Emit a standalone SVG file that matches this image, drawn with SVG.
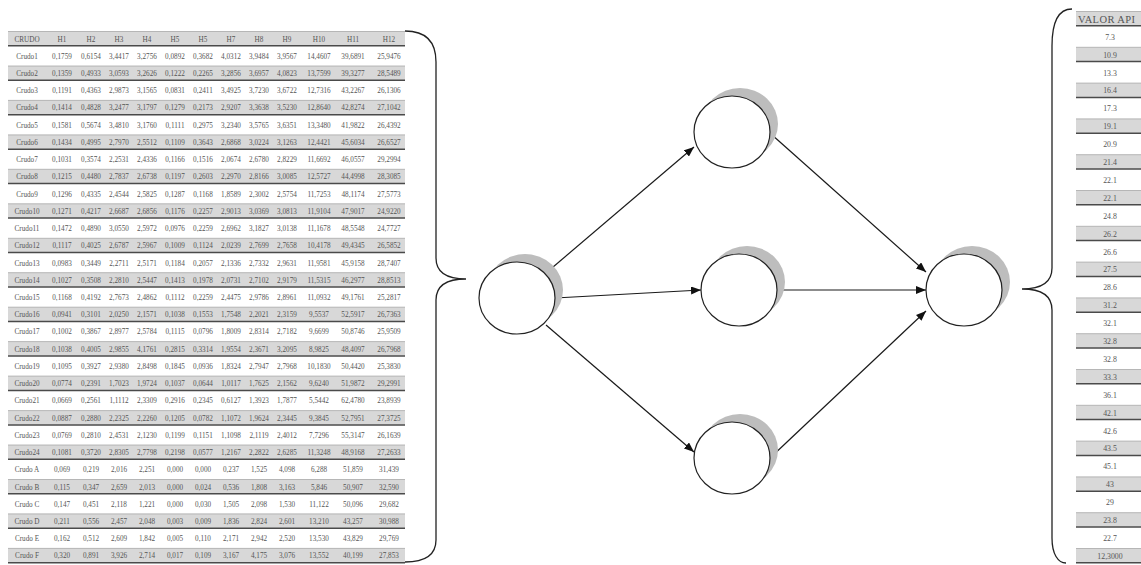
<svg xmlns="http://www.w3.org/2000/svg" width="1141" height="565" viewBox="0 0 1141 565">
  <style>
    .cell { font-family: "Liberation Serif", "DejaVu Serif", serif; font-size: 7.2px; fill: #555; text-anchor: middle; }
    .rcell { font-family: "Liberation Serif", "DejaVu Serif", serif; font-size: 7.8px; fill: #555; text-anchor: middle; }
    .rhead { font-family: "Liberation Serif", "DejaVu Serif", serif; font-size: 10.5px; fill: #555; letter-spacing: 0.4px; }
    .band { fill: #d8d8d8; }
    .bandTop { stroke: #a8a8a8; stroke-width: 0.8; }
    .bandBot { stroke: #4a4a4a; stroke-width: 1.5; }
    .brace { fill: none; stroke: #222; stroke-width: 1.3; }
    .node { fill: #fff; stroke: #222; stroke-width: 1.2; }
    .shadow { fill: #bdbdbd; }
    .link { stroke: #1a1a1a; stroke-width: 1.2; fill: none; marker-end: url(#arrow); }
  </style>
  <defs>
    <marker id="arrow" markerUnits="userSpaceOnUse" markerWidth="10" markerHeight="8" refX="10" refY="4" orient="auto">
      <path d="M0,0 L10,4 L0,8 z" fill="#111"/>
    </marker>
    <!-- shaded table row: band with light top rule and dark bottom rule -->
    <g id="lrow">
      <rect class="band" x="8" y="-7.5" width="397" height="14"/>
      <line class="bandTop" x1="8" y1="-7.5" x2="405" y2="-7.5"/>
      <line class="bandBot" x1="8" y1="6.8" x2="405" y2="6.8"/>
    </g>
    <g id="rrow">
      <rect class="band" x="1076" y="-7.5" width="67" height="14"/>
      <line class="bandTop" x1="1076" y1="-7.5" x2="1143" y2="-7.5"/>
      <line class="bandBot" x1="1076" y1="6.8" x2="1143" y2="6.8"/>
    </g>
  </defs>

  <!-- input data table -->
  <g id="input-table">
    <use href="#lrow" y="39"/>
    <use href="#lrow" y="73.5"/>
    <use href="#lrow" y="107.9"/>
    <use href="#lrow" y="142.4"/>
    <use href="#lrow" y="176.8"/>
    <use href="#lrow" y="211.3"/>
    <use href="#lrow" y="245.8"/>
    <use href="#lrow" y="280.2"/>
    <use href="#lrow" y="314.7"/>
    <use href="#lrow" y="349.1"/>
    <use href="#lrow" y="383.6"/>
    <use href="#lrow" y="418.1"/>
    <use href="#lrow" y="452.5"/>
    <use href="#lrow" y="487"/>
    <use href="#lrow" y="521.4"/>
    <use href="#lrow" y="555.9"/>
    <g class="cell">
      <text y="41.5"><tspan x="27">CRUDO</tspan><tspan x="62">H1</tspan><tspan x="91">H2</tspan><tspan x="119">H3</tspan><tspan x="147">H4</tspan><tspan x="175">H5</tspan><tspan x="203">H5</tspan><tspan x="231">H7</tspan><tspan x="259">H8</tspan><tspan x="287">H9</tspan><tspan x="319">H10</tspan><tspan x="353">H11</tspan><tspan x="389">H12</tspan></text>
      <text y="58.7"><tspan x="27">Crudo1</tspan><tspan x="62">0,1759</tspan><tspan x="91">0,6154</tspan><tspan x="119">3,4417</tspan><tspan x="147">3,2756</tspan><tspan x="175">0,0892</tspan><tspan x="203">0,3682</tspan><tspan x="231">4,0312</tspan><tspan x="259">3,9484</tspan><tspan x="287">3,9567</tspan><tspan x="319">14,4607</tspan><tspan x="353">39,6891</tspan><tspan x="389">25,9476</tspan></text>
      <text y="76"><tspan x="27">Crudo2</tspan><tspan x="62">0,1359</tspan><tspan x="91">0,4933</tspan><tspan x="119">3,0593</tspan><tspan x="147">3,2626</tspan><tspan x="175">0,1222</tspan><tspan x="203">0,2265</tspan><tspan x="231">3,2856</tspan><tspan x="259">3,6957</tspan><tspan x="287">4,0823</tspan><tspan x="319">13,7599</tspan><tspan x="353">39,3277</tspan><tspan x="389">28,5489</tspan></text>
      <text y="93.2"><tspan x="27">Crudo3</tspan><tspan x="62">0,1191</tspan><tspan x="91">0,4363</tspan><tspan x="119">2,9873</tspan><tspan x="147">3,1565</tspan><tspan x="175">0,0831</tspan><tspan x="203">0,2411</tspan><tspan x="231">3,4925</tspan><tspan x="259">3,7230</tspan><tspan x="287">3,6722</tspan><tspan x="319">12,7316</tspan><tspan x="353">43,2267</tspan><tspan x="389">26,1306</tspan></text>
      <text y="110.4"><tspan x="27">Crudo4</tspan><tspan x="62">0,1414</tspan><tspan x="91">0,4828</tspan><tspan x="119">3,2477</tspan><tspan x="147">3,1797</tspan><tspan x="175">0,1279</tspan><tspan x="203">0,2173</tspan><tspan x="231">2,9207</tspan><tspan x="259">3,3638</tspan><tspan x="287">3,5230</tspan><tspan x="319">12,8640</tspan><tspan x="353">42,8274</tspan><tspan x="389">27,1042</tspan></text>
      <text y="127.6"><tspan x="27">Crudo5</tspan><tspan x="62">0,1581</tspan><tspan x="91">0,5674</tspan><tspan x="119">3,4810</tspan><tspan x="147">3,1760</tspan><tspan x="175">0,1111</tspan><tspan x="203">0,2975</tspan><tspan x="231">3,2340</tspan><tspan x="259">3,5765</tspan><tspan x="287">3,6351</tspan><tspan x="319">13,3480</tspan><tspan x="353">41,9822</tspan><tspan x="389">26,4392</tspan></text>
      <text y="144.9"><tspan x="27">Crudo6</tspan><tspan x="62">0,1434</tspan><tspan x="91">0,4995</tspan><tspan x="119">2,7970</tspan><tspan x="147">2,5512</tspan><tspan x="175">0,1109</tspan><tspan x="203">0,3643</tspan><tspan x="231">2,6868</tspan><tspan x="259">3,0224</tspan><tspan x="287">3,1263</tspan><tspan x="319">12,4421</tspan><tspan x="353">45,6034</tspan><tspan x="389">26,6527</tspan></text>
      <text y="162.1"><tspan x="27">Crudo7</tspan><tspan x="62">0,1031</tspan><tspan x="91">0,3574</tspan><tspan x="119">2,2531</tspan><tspan x="147">2,4336</tspan><tspan x="175">0,1166</tspan><tspan x="203">0,1516</tspan><tspan x="231">2,0674</tspan><tspan x="259">2,6780</tspan><tspan x="287">2,8229</tspan><tspan x="319">11,6692</tspan><tspan x="353">46,0557</tspan><tspan x="389">29,2994</tspan></text>
      <text y="179.3"><tspan x="27">Crudo8</tspan><tspan x="62">0,1215</tspan><tspan x="91">0,4480</tspan><tspan x="119">2,7837</tspan><tspan x="147">2,6738</tspan><tspan x="175">0,1197</tspan><tspan x="203">0,2603</tspan><tspan x="231">2,2970</tspan><tspan x="259">2,8166</tspan><tspan x="287">3,0085</tspan><tspan x="319">12,5727</tspan><tspan x="353">44,4998</tspan><tspan x="389">28,3085</tspan></text>
      <text y="196.6"><tspan x="27">Crudo9</tspan><tspan x="62">0,1296</tspan><tspan x="91">0,4335</tspan><tspan x="119">2,4544</tspan><tspan x="147">2,5825</tspan><tspan x="175">0,1287</tspan><tspan x="203">0,1168</tspan><tspan x="231">1,8589</tspan><tspan x="259">2,3002</tspan><tspan x="287">2,5754</tspan><tspan x="319">11,7253</tspan><tspan x="353">48,1174</tspan><tspan x="389">27,5773</tspan></text>
      <text y="213.8"><tspan x="27">Crudo10</tspan><tspan x="62">0,1271</tspan><tspan x="91">0,4217</tspan><tspan x="119">2,6687</tspan><tspan x="147">2,6856</tspan><tspan x="175">0,1176</tspan><tspan x="203">0,2257</tspan><tspan x="231">2,9013</tspan><tspan x="259">3,0369</tspan><tspan x="287">3,0813</tspan><tspan x="319">11,9104</tspan><tspan x="353">47,9017</tspan><tspan x="389">24,9220</tspan></text>
      <text y="231"><tspan x="27">Crudo11</tspan><tspan x="62">0,1472</tspan><tspan x="91">0,4890</tspan><tspan x="119">3,0550</tspan><tspan x="147">2,5972</tspan><tspan x="175">0,0976</tspan><tspan x="203">0,2259</tspan><tspan x="231">2,6962</tspan><tspan x="259">3,1827</tspan><tspan x="287">3,0138</tspan><tspan x="319">11,1678</tspan><tspan x="353">48,5548</tspan><tspan x="389">24,7727</tspan></text>
      <text y="248.3"><tspan x="27">Crudo12</tspan><tspan x="62">0,1117</tspan><tspan x="91">0,4025</tspan><tspan x="119">2,6787</tspan><tspan x="147">2,5967</tspan><tspan x="175">0,1009</tspan><tspan x="203">0,1124</tspan><tspan x="231">2,0239</tspan><tspan x="259">2,7699</tspan><tspan x="287">2,7658</tspan><tspan x="319">10,4178</tspan><tspan x="353">49,4345</tspan><tspan x="389">26,5852</tspan></text>
      <text y="265.5"><tspan x="27">Crudo13</tspan><tspan x="62">0,0983</tspan><tspan x="91">0,3449</tspan><tspan x="119">2,2711</tspan><tspan x="147">2,5171</tspan><tspan x="175">0,1184</tspan><tspan x="203">0,2057</tspan><tspan x="231">2,1336</tspan><tspan x="259">2,7332</tspan><tspan x="287">2,9631</tspan><tspan x="319">11,9581</tspan><tspan x="353">45,9158</tspan><tspan x="389">28,7407</tspan></text>
      <text y="282.7"><tspan x="27">Crudo14</tspan><tspan x="62">0,1027</tspan><tspan x="91">0,3508</tspan><tspan x="119">2,2810</tspan><tspan x="147">2,5447</tspan><tspan x="175">0,1413</tspan><tspan x="203">0,1978</tspan><tspan x="231">2,0731</tspan><tspan x="259">2,7102</tspan><tspan x="287">2,9179</tspan><tspan x="319">11,5315</tspan><tspan x="353">46,2977</tspan><tspan x="389">28,8513</tspan></text>
      <text y="299.9"><tspan x="27">Crudo15</tspan><tspan x="62">0,1168</tspan><tspan x="91">0,4192</tspan><tspan x="119">2,7673</tspan><tspan x="147">2,4862</tspan><tspan x="175">0,1112</tspan><tspan x="203">0,2259</tspan><tspan x="231">2,4475</tspan><tspan x="259">2,9786</tspan><tspan x="287">2,8961</tspan><tspan x="319">11,0932</tspan><tspan x="353">49,1761</tspan><tspan x="389">25,2817</tspan></text>
      <text y="317.2"><tspan x="27">Crudo16</tspan><tspan x="62">0,0941</tspan><tspan x="91">0,3101</tspan><tspan x="119">2,0250</tspan><tspan x="147">2,1571</tspan><tspan x="175">0,1038</tspan><tspan x="203">0,1553</tspan><tspan x="231">1,7548</tspan><tspan x="259">2,2021</tspan><tspan x="287">2,3159</tspan><tspan x="319">9,5537</tspan><tspan x="353">52,5917</tspan><tspan x="389">26,7363</tspan></text>
      <text y="334.4"><tspan x="27">Crudo17</tspan><tspan x="62">0,1002</tspan><tspan x="91">0,3867</tspan><tspan x="119">2,8977</tspan><tspan x="147">2,5784</tspan><tspan x="175">0,1115</tspan><tspan x="203">0,0796</tspan><tspan x="231">1,8009</tspan><tspan x="259">2,8314</tspan><tspan x="287">2,7182</tspan><tspan x="319">9,6699</tspan><tspan x="353">50,8746</tspan><tspan x="389">25,9509</tspan></text>
      <text y="351.6"><tspan x="27">Crudo18</tspan><tspan x="62">0,1038</tspan><tspan x="91">0,4005</tspan><tspan x="119">2,9855</tspan><tspan x="147">4,1761</tspan><tspan x="175">0,2815</tspan><tspan x="203">0,3314</tspan><tspan x="231">1,9554</tspan><tspan x="259">2,3671</tspan><tspan x="287">3,2095</tspan><tspan x="319">8,9825</tspan><tspan x="353">48,4097</tspan><tspan x="389">26,7968</tspan></text>
      <text y="368.9"><tspan x="27">Crudo19</tspan><tspan x="62">0,1095</tspan><tspan x="91">0,3927</tspan><tspan x="119">2,9380</tspan><tspan x="147">2,8498</tspan><tspan x="175">0,1845</tspan><tspan x="203">0,0936</tspan><tspan x="231">1,8324</tspan><tspan x="259">2,7947</tspan><tspan x="287">2,7968</tspan><tspan x="319">10,1830</tspan><tspan x="353">50,4420</tspan><tspan x="389">25,3830</tspan></text>
      <text y="386.1"><tspan x="27">Crudo20</tspan><tspan x="62">0,0774</tspan><tspan x="91">0,2391</tspan><tspan x="119">1,7023</tspan><tspan x="147">1,9724</tspan><tspan x="175">0,1037</tspan><tspan x="203">0,0644</tspan><tspan x="231">1,0117</tspan><tspan x="259">1,7625</tspan><tspan x="287">2,1562</tspan><tspan x="319">9,6240</tspan><tspan x="353">51,9872</tspan><tspan x="389">29,2991</tspan></text>
      <text y="403.3"><tspan x="27">Crudo21</tspan><tspan x="62">0,0669</tspan><tspan x="91">0,2561</tspan><tspan x="119">1,1112</tspan><tspan x="147">2,3309</tspan><tspan x="175">0,2916</tspan><tspan x="203">0,2345</tspan><tspan x="231">0,6127</tspan><tspan x="259">1,3923</tspan><tspan x="287">1,7877</tspan><tspan x="319">5,5442</tspan><tspan x="353">62,4780</tspan><tspan x="389">23,8939</tspan></text>
      <text y="420.6"><tspan x="27">Crudo22</tspan><tspan x="62">0,0887</tspan><tspan x="91">0,2880</tspan><tspan x="119">2,2325</tspan><tspan x="147">2,2260</tspan><tspan x="175">0,1205</tspan><tspan x="203">0,0782</tspan><tspan x="231">1,1072</tspan><tspan x="259">1,9624</tspan><tspan x="287">2,3445</tspan><tspan x="319">9,3845</tspan><tspan x="353">52,7951</tspan><tspan x="389">27,3725</tspan></text>
      <text y="437.8"><tspan x="27">Crudo23</tspan><tspan x="62">0,0769</tspan><tspan x="91">0,2810</tspan><tspan x="119">2,4531</tspan><tspan x="147">2,1230</tspan><tspan x="175">0,1199</tspan><tspan x="203">0,1151</tspan><tspan x="231">1,1098</tspan><tspan x="259">2,1119</tspan><tspan x="287">2,4012</tspan><tspan x="319">7,7296</tspan><tspan x="353">55,3147</tspan><tspan x="389">26,1639</tspan></text>
      <text y="455"><tspan x="27">Crudo24</tspan><tspan x="62">0,1081</tspan><tspan x="91">0,3720</tspan><tspan x="119">2,8305</tspan><tspan x="147">2,7798</tspan><tspan x="175">0,2198</tspan><tspan x="203">0,0577</tspan><tspan x="231">1,2167</tspan><tspan x="259">2,2822</tspan><tspan x="287">2,6285</tspan><tspan x="319">11,3248</tspan><tspan x="353">48,9168</tspan><tspan x="389">27,2633</tspan></text>
      <text y="472.3"><tspan x="27">Crudo A</tspan><tspan x="62">0,069</tspan><tspan x="91">0,219</tspan><tspan x="119">2,016</tspan><tspan x="147">2,251</tspan><tspan x="175">0,000</tspan><tspan x="203">0,000</tspan><tspan x="231">0,237</tspan><tspan x="259">1,525</tspan><tspan x="287">4,098</tspan><tspan x="319">6,288</tspan><tspan x="353">51,859</tspan><tspan x="389">31,439</tspan></text>
      <text y="489.5"><tspan x="27">Crudo B</tspan><tspan x="62">0,115</tspan><tspan x="91">0,347</tspan><tspan x="119">2,659</tspan><tspan x="147">2,013</tspan><tspan x="175">0,000</tspan><tspan x="203">0,024</tspan><tspan x="231">0,536</tspan><tspan x="259">1,808</tspan><tspan x="287">3,163</tspan><tspan x="319">5,846</tspan><tspan x="353">50,907</tspan><tspan x="389">32,590</tspan></text>
      <text y="506.7"><tspan x="27">Crudo C</tspan><tspan x="62">0,147</tspan><tspan x="91">0,451</tspan><tspan x="119">2,118</tspan><tspan x="147">1,221</tspan><tspan x="175">0,000</tspan><tspan x="203">0,030</tspan><tspan x="231">1,505</tspan><tspan x="259">2,098</tspan><tspan x="287">1,530</tspan><tspan x="319">11,122</tspan><tspan x="353">50,096</tspan><tspan x="389">29,682</tspan></text>
      <text y="524"><tspan x="27">Crudo D</tspan><tspan x="62">0,211</tspan><tspan x="91">0,556</tspan><tspan x="119">2,457</tspan><tspan x="147">2,048</tspan><tspan x="175">0,003</tspan><tspan x="203">0,009</tspan><tspan x="231">1,836</tspan><tspan x="259">2,824</tspan><tspan x="287">2,601</tspan><tspan x="319">13,210</tspan><tspan x="353">43,257</tspan><tspan x="389">30,988</tspan></text>
      <text y="541.2"><tspan x="27">Crudo E</tspan><tspan x="62">0,162</tspan><tspan x="91">0,512</tspan><tspan x="119">2,609</tspan><tspan x="147">1,842</tspan><tspan x="175">0,005</tspan><tspan x="203">0,110</tspan><tspan x="231">2,171</tspan><tspan x="259">2,942</tspan><tspan x="287">2,520</tspan><tspan x="319">13,530</tspan><tspan x="353">43,829</tspan><tspan x="389">29,769</tspan></text>
      <text y="558.4"><tspan x="27">Crudo F</tspan><tspan x="62">0,320</tspan><tspan x="91">0,891</tspan><tspan x="119">3,926</tspan><tspan x="147">2,714</tspan><tspan x="175">0,017</tspan><tspan x="203">0,109</tspan><tspan x="231">3,167</tspan><tspan x="259">4,175</tspan><tspan x="287">3,076</tspan><tspan x="319">13,552</tspan><tspan x="353">40,199</tspan><tspan x="389">27,853</tspan></text>
    </g>
    <path class="brace" d="M405,31 C426,31 436,42 436,62 L436,258 C436,272 446,279 466,279 C446,279 436,286 436,300 L436,540 C436,554 426,562 405,562"/>
  </g>

  <!-- connectors -->
  <g id="connectors">
    <line class="link" x1="546" y1="273" x2="694" y2="147"/>
    <line class="link" x1="555" y1="298" x2="701" y2="290"/>
    <line class="link" x1="546" y1="325" x2="694" y2="452"/>
    <line class="link" x1="771" y1="134" x2="926" y2="272"/>
    <line class="link" x1="777" y1="290" x2="926" y2="290"/>
    <line class="link" x1="770" y1="458" x2="926" y2="311"/>
  </g>

  <!-- network nodes -->
  <g id="node-input">
    <ellipse class="shadow" cx="525" cy="290" rx="38" ry="36"/>
    <ellipse class="node" cx="517" cy="298" rx="38" ry="36"/>
  </g>
  <g id="node-hidden-1">
    <ellipse class="shadow" cx="740" cy="124" rx="38" ry="36"/>
    <ellipse class="node" cx="732" cy="132" rx="38" ry="36"/>
  </g>
  <g id="node-hidden-2">
    <ellipse class="shadow" cx="747" cy="282" rx="38" ry="36"/>
    <ellipse class="node" cx="739" cy="290" rx="38" ry="36"/>
  </g>
  <g id="node-hidden-3">
    <ellipse class="shadow" cx="740" cy="450" rx="38" ry="36"/>
    <ellipse class="node" cx="732" cy="458" rx="38" ry="36"/>
  </g>
  <g id="node-output">
    <ellipse class="shadow" cx="972" cy="282" rx="38" ry="36"/>
    <ellipse class="node" cx="964" cy="290" rx="38" ry="36"/>
  </g>

  <!-- output value table -->
  <g id="output-table">
    <path class="brace" d="M1072,9 C1059,9 1052,22 1052,46 L1052,268 C1052,282 1042,289 1022,289 C1042,289 1052,296 1052,310 L1052,538 C1052,554 1058,563 1066,563"/>
    <use href="#rrow" y="19"/>
    <use href="#rrow" y="54.8"/>
    <use href="#rrow" y="90.6"/>
    <use href="#rrow" y="126.4"/>
    <use href="#rrow" y="162.2"/>
    <use href="#rrow" y="198"/>
    <use href="#rrow" y="233.8"/>
    <use href="#rrow" y="269.6"/>
    <use href="#rrow" y="305.4"/>
    <use href="#rrow" y="341.2"/>
    <use href="#rrow" y="377"/>
    <use href="#rrow" y="412.8"/>
    <use href="#rrow" y="448.6"/>
    <use href="#rrow" y="484.4"/>
    <use href="#rrow" y="520.2"/>
    <use href="#rrow" y="556"/>
    <text class="rhead" x="1078" y="22.8">VALOR API</text>
    <g class="rcell">
      <text x="1110" y="39.7">7.3</text>
      <text x="1110" y="57.6">10.9</text>
      <text x="1110" y="75.5">13.3</text>
      <text x="1110" y="93.4">16.4</text>
      <text x="1110" y="111.3">17.3</text>
      <text x="1110" y="129.2">19.1</text>
      <text x="1110" y="147.1">20.9</text>
      <text x="1110" y="165">21.4</text>
      <text x="1110" y="182.9">22.1</text>
      <text x="1110" y="200.8">22.1</text>
      <text x="1110" y="218.7">24.8</text>
      <text x="1110" y="236.6">26.2</text>
      <text x="1110" y="254.5">26.6</text>
      <text x="1110" y="272.4">27.5</text>
      <text x="1110" y="290.3">28.6</text>
      <text x="1110" y="308.2">31.2</text>
      <text x="1110" y="326.1">32.1</text>
      <text x="1110" y="344">32.8</text>
      <text x="1110" y="361.9">32.8</text>
      <text x="1110" y="379.8">33.3</text>
      <text x="1110" y="397.7">36.1</text>
      <text x="1110" y="415.6">42.1</text>
      <text x="1110" y="433.5">42.6</text>
      <text x="1110" y="451.4">43.5</text>
      <text x="1110" y="469.3">45.1</text>
      <text x="1110" y="487.2">43</text>
      <text x="1110" y="505.1">29</text>
      <text x="1110" y="523">23.8</text>
      <text x="1110" y="540.9">22.7</text>
      <text x="1110" y="558.8">12,3000</text>
    </g>
  </g>
</svg>
